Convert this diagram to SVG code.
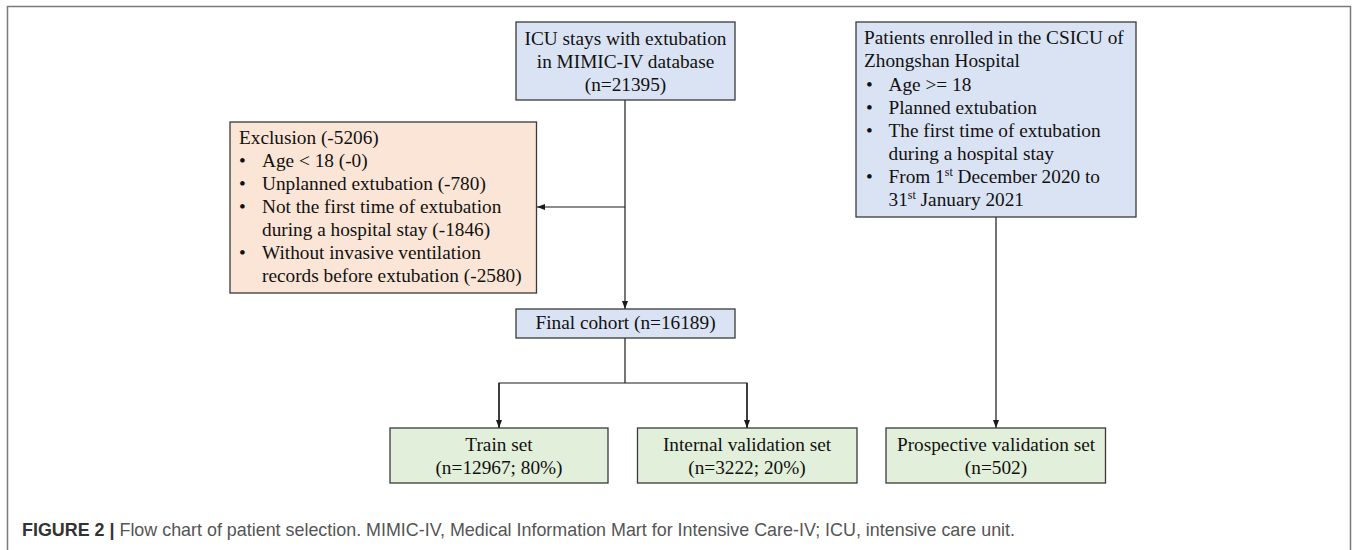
<svg xmlns="http://www.w3.org/2000/svg" width="1357" height="550" viewBox="0 0 1357 550">
<defs>
<style>
.box{stroke:#3a3a3a;stroke-width:1.3}
.blue{fill:#dae3f3}
.orange{fill:#fbe5d6}
.green{fill:#e2efda}
.t{font-family:"Liberation Serif","Times New Roman",serif;font-size:19.3px;fill:#111}
.c{text-anchor:middle}
.conn{stroke:#1a1a1a;stroke-width:1.2;fill:none}
.cap{font-family:"Liberation Sans",Arial,sans-serif;font-size:17.9px;fill:#555}
</style>
<marker id="arr" markerUnits="userSpaceOnUse" markerWidth="8" markerHeight="8" viewBox="0 0 8 8" refX="8" refY="4" orient="auto">
<path d="M0,1 L8,4 L0,7 Z" fill="#1a1a1a"/>
</marker>
</defs>
<rect x="7.5" y="6.5" width="1343" height="560" fill="none" stroke="#7a7a7a" stroke-width="1.5"/>
<g id="connectors">
<line class="conn" x1="625" y1="100" x2="625" y2="309" marker-end="url(#arr)"/>
<line class="conn" x1="625" y1="207" x2="537" y2="207" marker-end="url(#arr)"/>
<line class="conn" x1="625" y1="338" x2="625" y2="383"/>
<polyline class="conn" points="499,428 499,383 747,383 747,428"/>
<line class="conn" x1="499" y1="383" x2="499" y2="428" marker-end="url(#arr)"/>
<line class="conn" x1="747" y1="383" x2="747" y2="428" marker-end="url(#arr)"/>
<line class="conn" x1="996" y1="217" x2="996" y2="428" marker-end="url(#arr)"/>
</g>
<g id="icu">
<rect class="box blue" x="516" y="22" width="219" height="78"/>
<text class="t c" x="625.5" y="45">ICU stays with extubation</text>
<text class="t c" x="625.5" y="68">in MIMIC-IV database</text>
<text class="t c" x="625.5" y="91">(n=21395)</text>
</g>
<g id="exclusion">
<rect class="box orange" x="230" y="122" width="306.5" height="171"/>
<text class="t" x="239" y="144">Exclusion (-5206)</text>
<text class="t" x="239" y="167">•</text><text class="t" x="262" y="167">Age &lt; 18 (-0)</text>
<text class="t" x="239" y="190">•</text><text class="t" x="262" y="190">Unplanned extubation (-780)</text>
<text class="t" x="239" y="213">•</text><text class="t" x="262" y="213">Not the first time of extubation</text>
<text class="t" x="262" y="236">during a hospital stay (-1846)</text>
<text class="t" x="239" y="259">•</text><text class="t" x="262" y="259">Without invasive ventilation</text>
<text class="t" x="262" y="282">records before extubation (-2580)</text>
</g>
<g id="patients">
<rect class="box blue" x="856" y="22" width="280" height="195"/>
<text class="t" x="864" y="44">Patients enrolled in the CSICU of</text>
<text class="t" x="864" y="67">Zhongshan Hospital</text>
<text class="t" x="866" y="91">•</text><text class="t" x="888.5" y="91">Age &gt;= 18</text>
<text class="t" x="866" y="114">•</text><text class="t" x="888.5" y="114">Planned extubation</text>
<text class="t" x="866" y="137">•</text><text class="t" x="888.5" y="137">The first time of extubation</text>
<text class="t" x="888.5" y="160">during a hospital stay</text>
<text class="t" x="866" y="183">•</text><text class="t" x="888.5" y="183">From 1<tspan font-size="12" dy="-7">st</tspan><tspan dy="7"> December 2020 to</tspan></text>
<text class="t" x="888.5" y="206">31<tspan font-size="12" dy="-7">st</tspan><tspan dy="7"> January 2021</tspan></text>
</g>
<g id="final">
<rect class="box blue" x="516" y="309" width="219" height="29"/>
<text class="t c" x="625.5" y="329">Final cohort (n=16189)</text>
</g>
<g id="train">
<rect class="box green" x="390" y="428" width="218" height="55"/>
<text class="t c" x="499" y="451">Train set</text>
<text class="t c" x="499" y="474">(n=12967; 80%)</text>
</g>
<g id="internal">
<rect class="box green" x="637.5" y="428" width="219.5" height="55"/>
<text class="t c" x="747" y="451">Internal validation set</text>
<text class="t c" x="747" y="474">(n=3222; 20%)</text>
</g>
<g id="prospective">
<rect class="box green" x="886" y="428" width="219.5" height="55"/>
<text class="t c" x="996" y="451">Prospective validation set</text>
<text class="t c" x="996" y="474">(n=502)</text>
</g>
<text class="cap" x="22" y="536"><tspan font-weight="bold" fill="#333">FIGURE 2 |</tspan> Flow chart of patient selection. MIMIC-IV, Medical Information Mart for Intensive Care-IV; ICU, intensive care unit.</text>
</svg>
